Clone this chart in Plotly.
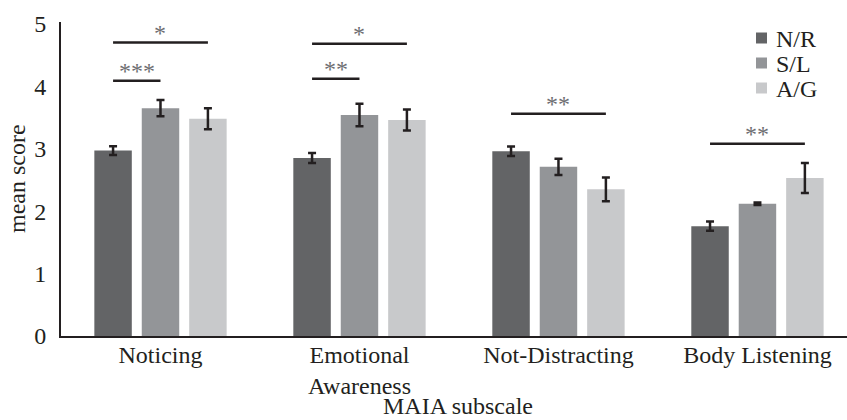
import plotly.graph_objects as go

categories = ["Noticing", "Emotional<br>Awareness", "Not-Distracting", "Body Listening"]
groups = ["N/R", "S/L", "A/G"]
colors = ["#636466", "#939598", "#c8c9cb"]

nr_mean = [2.97, 2.85, 2.96, 1.76]
sl_mean = [3.65, 3.54, 2.71, 2.12]
ag_mean = [3.48, 3.46, 2.35, 2.53]
nr_err = [0.07, 0.08, 0.075, 0.075]
sl_err = [0.13, 0.18, 0.13, 0.02]
ag_err = [0.17, 0.17, 0.19, 0.24]

means = [nr_mean, sl_mean, ag_mean]
errs = [nr_err, sl_err, ag_err]

# significance brackets: (category index, from group, to group, y level, label)
sig_cat = [0, 0, 1, 1, 2, 3]
sig_from = [0, 0, 0, 0, 0, 0]
sig_to = [2, 1, 2, 1, 2, 2]
sig_y = [4.70, 4.09, 4.68, 4.12, 3.56, 3.08]
sig_label = ["*", "***", "*", "**", "**", "**"]

FONT = "Liberation Serif"
INK = "#231f20"
FS = 24
BARGAP = 0.285
slot = (1 - BARGAP) / 3

W, H = 847, 420
ML, MT, MB = 61, 22, 84
PW, PH = W - ML, H - MT - MB


def px_x(p):
    return (p - ML) / PW


def px_y(p):
    return (H - MB - p) / PH


x_idx = list(range(len(categories)))

fig = go.Figure()
for g, name in enumerate(groups):
    fig.add_trace(go.Bar(
        x=x_idx, y=means[g], name=name, showlegend=False,
        marker=dict(color=colors[g], line=dict(width=0)),
        error_y=dict(type="data", array=errs[g], visible=True,
                     color=INK, thickness=2.5, width=4),
    ))

for c, a, b, yv, lab in zip(sig_cat, sig_from, sig_to, sig_y, sig_label):
    x0 = c + (a - 1) * slot
    x1 = c + (b - 1) * slot
    fig.add_shape(type="line", xref="x", yref="y", x0=x0, x1=x1, y0=yv, y1=yv,
                  line=dict(color=INK, width=2.5))
    fig.add_annotation(x=(x0 + x1) / 2, y=yv, xref="x", yref="y", text=lab,
                       showarrow=False, yanchor="bottom", yshift=-5,
                       font=dict(family=FONT, size=FS, color="#6d6e71"))

# legend (drawn as key squares + labels)
for g, name in enumerate(groups):
    cy = 38 + 25 * g
    fig.add_shape(type="rect", xref="paper", yref="paper",
                  x0=px_x(756), x1=px_x(767), y0=px_y(cy + 5.5), y1=px_y(cy - 5.5),
                  fillcolor=colors[g], line=dict(width=0))
    fig.add_annotation(text=name, xref="paper", yref="paper", x=px_x(774), y=px_y(cy + 1),
                       xanchor="left", yanchor="middle", showarrow=False,
                       font=dict(family=FONT, size=FS, color=INK))

fig.add_annotation(text="MAIA subscale", xref="paper", yref="paper",
                   x=px_x(458), y=px_y(420), showarrow=False, yanchor="bottom",
                   borderpad=0,
                   font=dict(family=FONT, size=FS, color=INK))
fig.add_annotation(text="mean score", xref="paper", yref="paper",
                   x=px_x(17), y=0.5, showarrow=False, textangle=-90,
                   xanchor="center", yanchor="middle",
                   font=dict(family=FONT, size=FS, color=INK))

fig.update_layout(
    width=W, height=H,
    margin=dict(l=ML, r=0, t=MT, b=MB, autoexpand=False),
    paper_bgcolor="white", plot_bgcolor="white",
    barmode="group", bargap=BARGAP, bargroupgap=0.21,
    font=dict(family=FONT, size=FS, color=INK),
    showlegend=False,
    xaxis=dict(range=[-0.5, 3.45], tickmode="array", tickvals=x_idx, ticktext=categories,
               showline=True, linecolor=INK, linewidth=2, ticks="", showgrid=False,
               zeroline=False, automargin=False, ticklabelstandoff=-4,
               tickfont=dict(family=FONT, size=FS, color=INK)),
    yaxis=dict(range=[0, 5.03], tickmode="array", tickvals=[0, 1, 2, 3, 4, 5],
               showline=True, linecolor=INK, linewidth=2, ticks="", showgrid=False,
               zeroline=False, ticklabelstandoff=8, automargin=False,
               tickfont=dict(family=FONT, size=FS, color=INK)),
)

fig.write_html("out.html", config={"displayModeBar": False},
               post_script="document.body.style.margin='0px';")
